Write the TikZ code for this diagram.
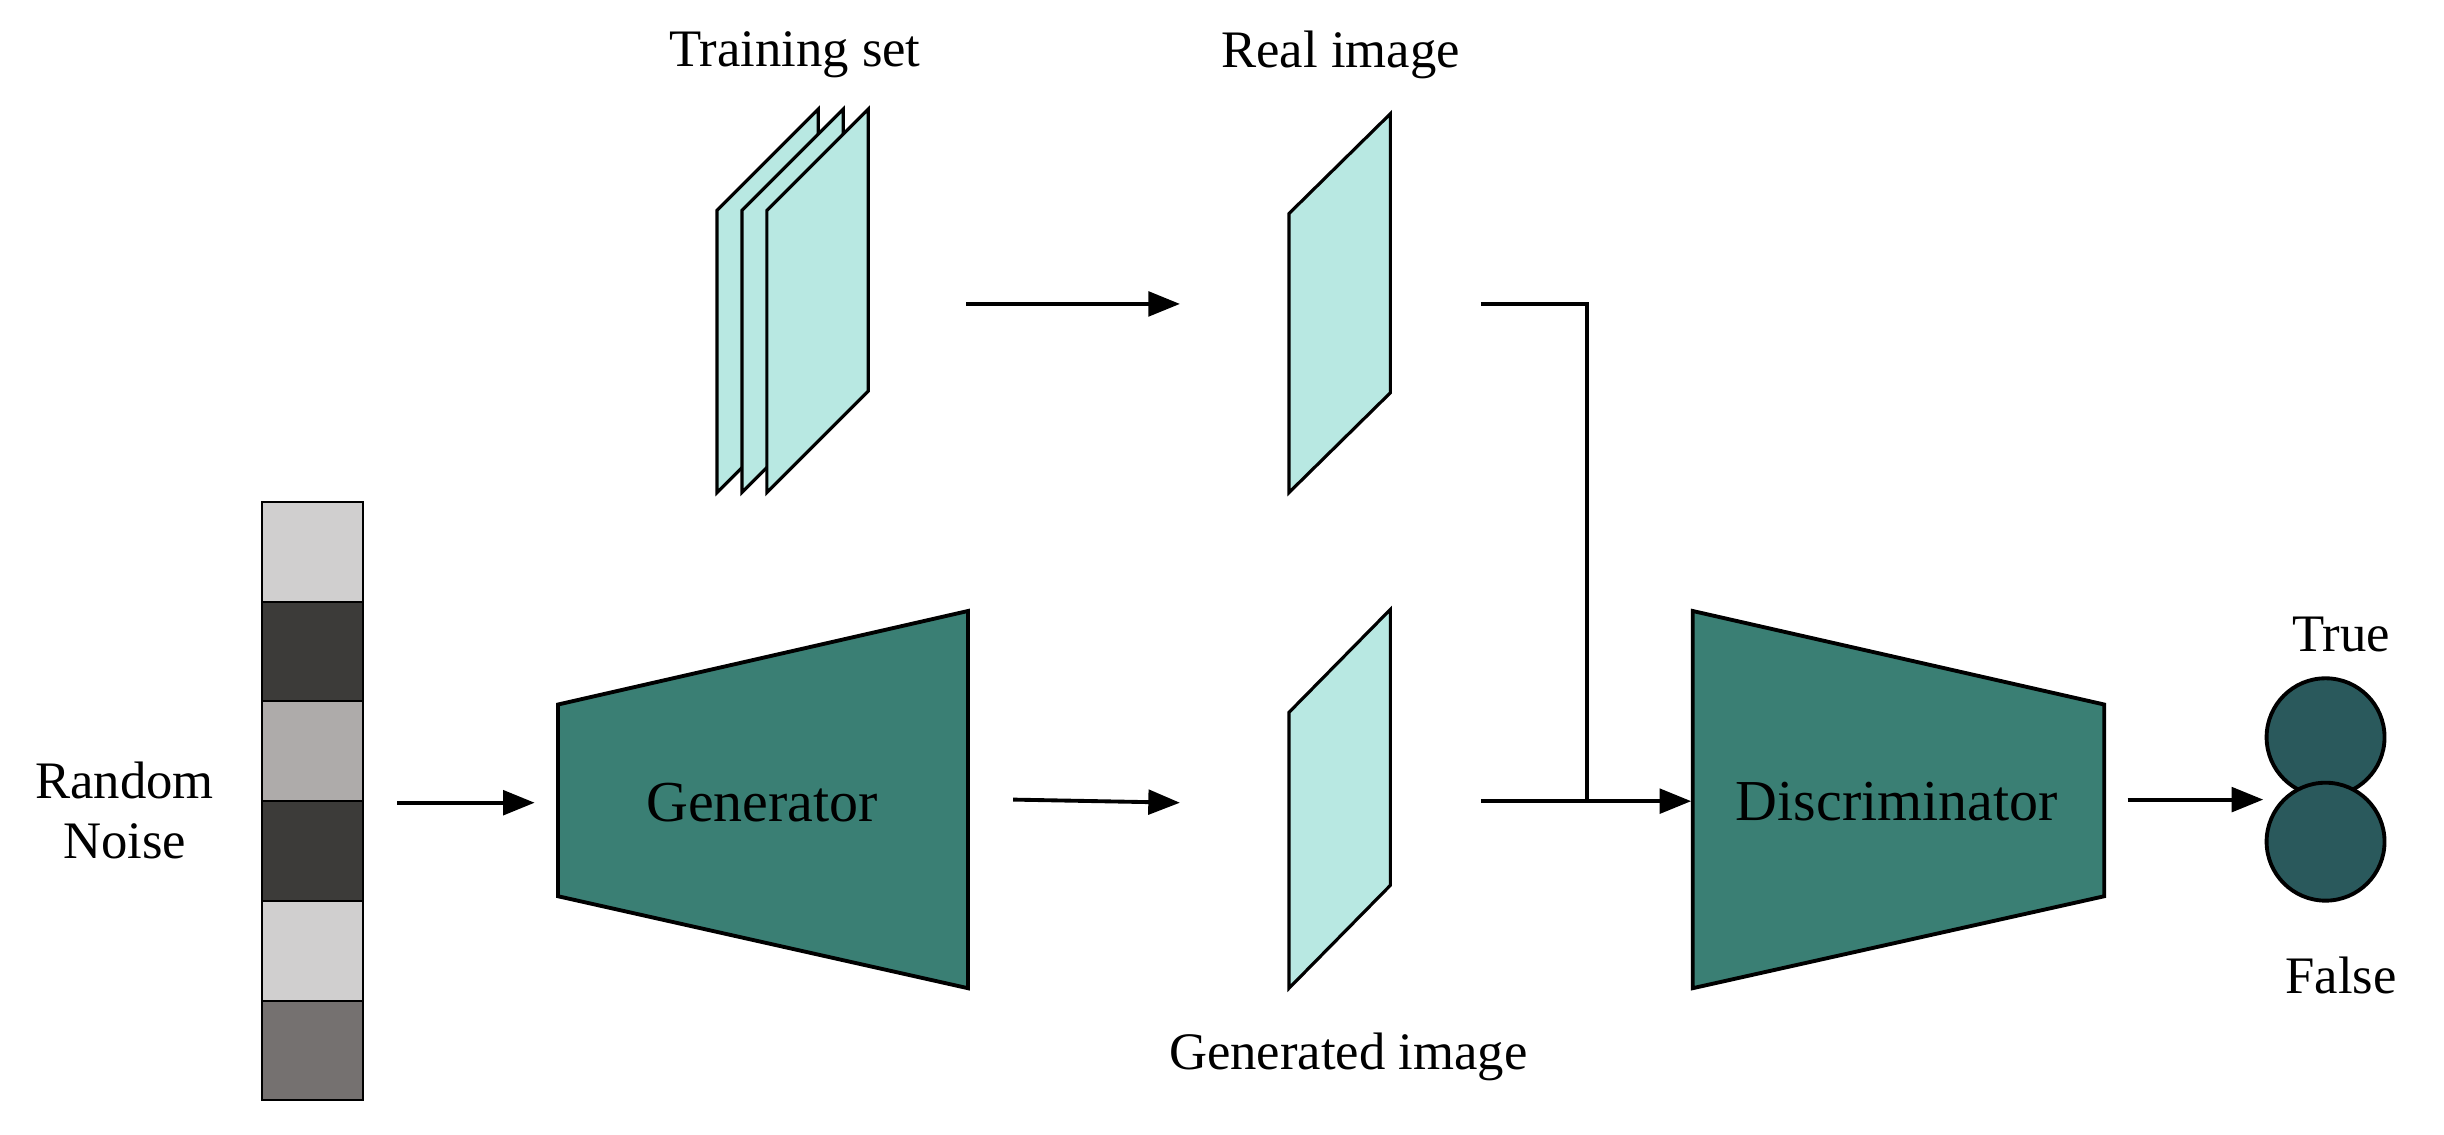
\documentclass[tikz,border=0pt]{standalone}
\usepackage{fontspec}
\setmainfont{Liberation Serif}
\usetikzlibrary{arrows.meta}
\definecolor{teal1}{HTML}{3A7F74}
\definecolor{cyan1}{HTML}{B8E8E2}
\definecolor{dark1}{HTML}{2A595C}
\definecolor{n1}{HTML}{D0CFCF}
\definecolor{n2}{HTML}{3C3B39}
\definecolor{n3}{HTML}{AEABAA}
\definecolor{n4}{HTML}{757170}
\begin{document}
\begin{tikzpicture}[x=0.01559cm,y=-0.01559cm,
  ln/.style={line width=1.1pt},
  arr/.style={ln,-{Triangle[length=9pt,width=7pt]}},
  lbl/.style={font=\fontsize{15}{17}\selectfont},
  inlbl/.style={font=\fontsize{16.5}{19}\selectfont},
  img/.style={ln,fill=cyan1,draw=black,line width=0.9pt},
  trap/.style={ln,fill=teal1,draw=black}]
\useasboundingbox (0,0) rectangle (1568,728);
% noise
\foreach \c [count=\i from 0] in {n1,n2,n3,n2,n1,n4}
  \draw[fill=\c,line width=0.6pt] (168,322+64*\i) rectangle (233,386+64*\i);
\node[lbl,align=center] (noise) at (80,520) {Random\\Noise};
\coordinate (nz) at (255,515);
% generator
\draw[trap] (358,452) -- (621,392) -- (621,634) -- (358,575) -- cycle;
\node[inlbl] (gen) at (489,515) {Generator};
\coordinate (genin) at (343,515);
\coordinate (genout) at (650,513);
\draw[arr] (nz) -- (genin);
% training set
\foreach \dx in {0,16,32}
  \draw[img] (460+\dx,135) -- (525+\dx,70) -- (525+\dx,251) -- (460+\dx,316) -- cycle;
\node[lbl] (ts) at (510,35) {Training set};
\coordinate (tsout) at (620,195);
% real image
\draw[img] (827,137) -- (892,73) -- (892,252) -- (827,316) -- cycle;
\node[lbl] (ri) at (860,35) {Real image};
\coordinate (riin) at (757,195);
\coordinate (riout) at (950,195);
\draw[arr] (tsout) -- (riin);
% generated image
\draw[img] (827,457) -- (892,391) -- (892,568) -- (827,634) -- cycle;
\node[lbl] (gi) at (865,678) {Generated image};
\coordinate (giin) at (757,515);
\coordinate (giout) at (950,514);
\draw[arr] (genout) -- (giin);
% discriminator
\draw[trap] (1086,392) -- (1350,452) -- (1350,575) -- (1086,634) -- cycle;
\node[inlbl] (dis) at (1217,514) {Discriminator};
\coordinate (disin) at (1085,514);
\coordinate (join) at (1018,514);
\coordinate (disout) at (1365,513);
\draw[ln] (riout) -| (join);
\draw[arr] (giout) -- (disin);
% outputs
\node[circle,draw=black,line width=1.1pt,fill=dark1,minimum size=76\pgflinewidth,inner sep=0pt,minimum size=1.18cm] (t) at (1492,473) {};
\node[circle,draw=black,line width=1.1pt,fill=dark1,inner sep=0pt,minimum size=1.18cm] (f) at (1492,540) {};
\coordinate (outin) at (1452,513);
\draw[arr] (disout) -- (outin);
\node[lbl] (tl) at (1502,407) {True};
\node[lbl] (fl) at (1502,626) {False};
\end{tikzpicture}
\end{document}
